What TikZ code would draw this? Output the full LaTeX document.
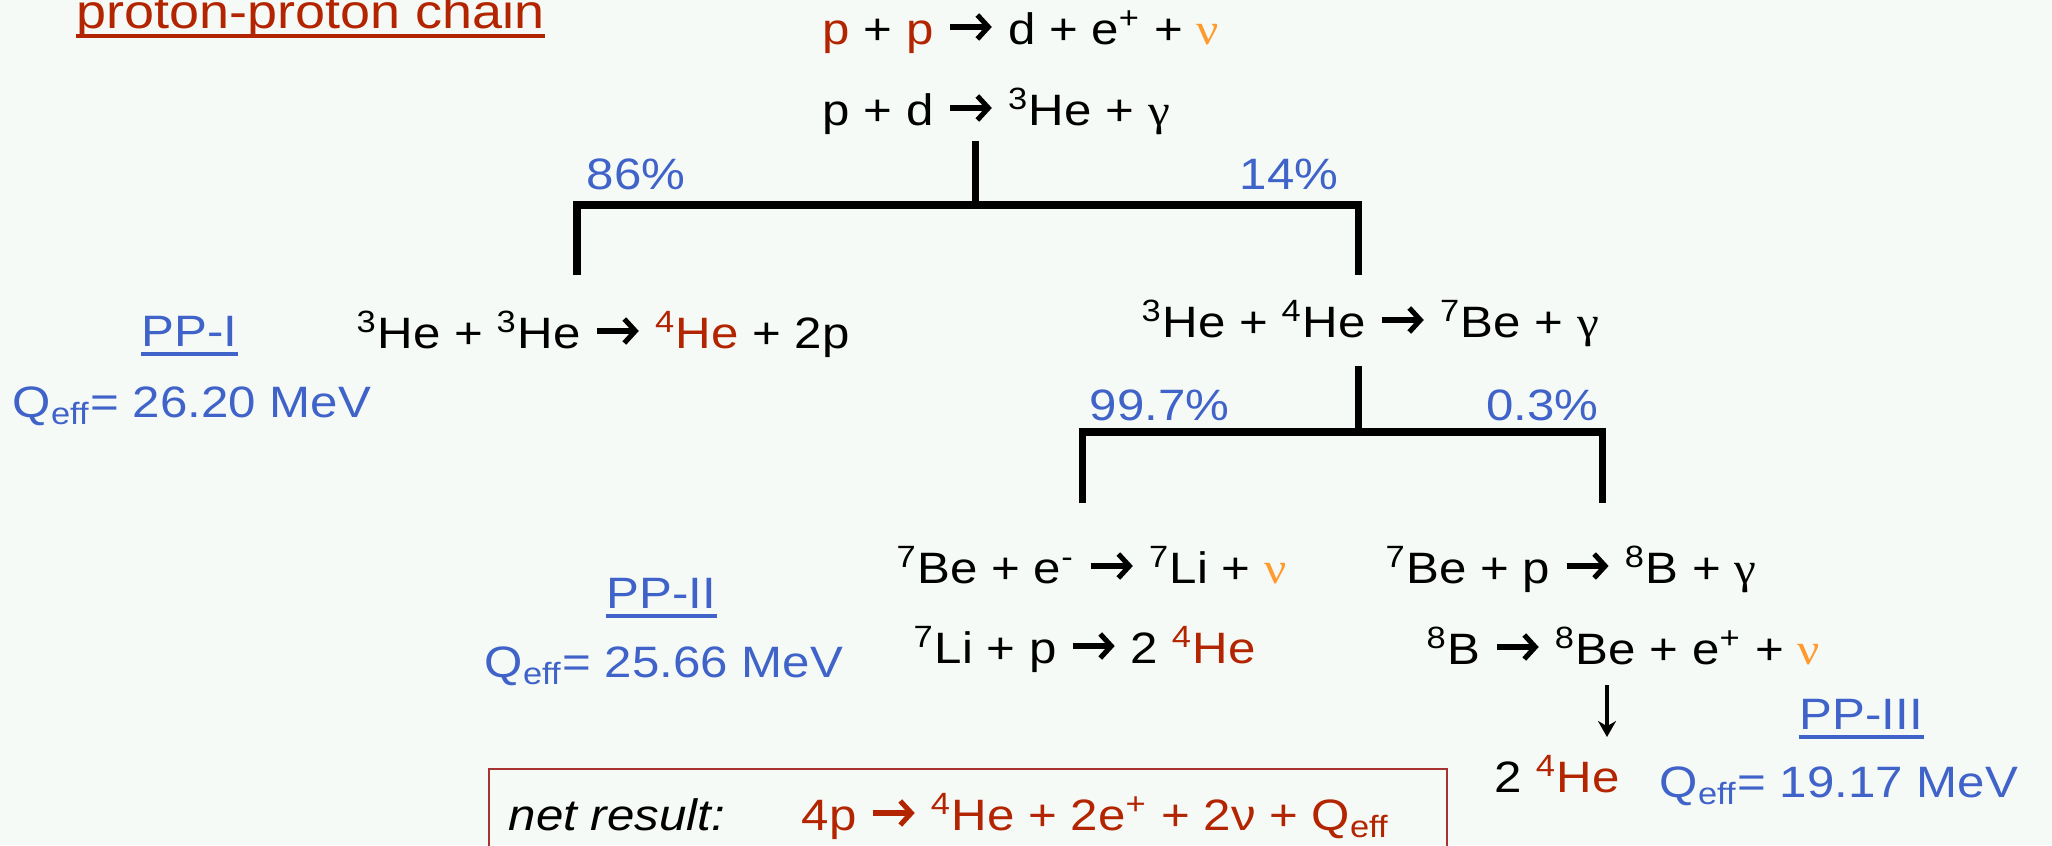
\documentclass[tikz,border=0pt]{standalone}
\usepackage{fontspec}
\setmainfont{Liberation Sans}[FakeStretch=1.12]
\newfontfamily\greekfont{Liberation Serif}[FakeStretch=1.12]
\usetikzlibrary{arrows.meta}
\definecolor{ChainRed}{HTML}{B32400}
\definecolor{NuOrange}{HTML}{FF9A2E}
\definecolor{PathBlue}{HTML}{3F63C8}
\definecolor{SlideBg}{HTML}{F6FAF7}
\definecolor{BoxRed}{HTML}{A83232}

\newcommand{\rarr}{\tikz[x=1cm,y=1cm,baseline=-0.17cm]\draw[line width=1.45pt,-{Straight Barb[length=0.11cm,width=0.24cm]}] (0,0) -- (0.42,0);}
\newcommand{\iso}[2]{\textsuperscript{#1}#2}
\newcommand{\neutrino}{\textcolor{NuOrange}{\greekfont ν}}
\newcommand{\photon}{{\greekfont γ}}
\newcommand{\Qeff}{Q\textsubscript{eff}}

\tikzset{
  eq/.style={anchor=base west,inner sep=0pt,font=\fontsize{12.5pt}{15pt}\selectfont},
  lbl/.style={eq,text=PathBlue},
  branch/.style={line width=2pt},
  decay/.style={line width=1.1pt,-{Stealth[length=0.16cm,width=0.18cm]}},
  uline/.style={line width=0.9pt}
}

\begin{document}
\begin{tikzpicture}[x=0.01cm,y=-0.01cm]
  \useasboundingbox (0,0) rectangle (2052,845);
  \clip (0,0) rectangle (2052,845);
  \fill[SlideBg] (0,0) rectangle (2052,845);

  % title
  \node[eq,font=\fontsize{13.7pt}{16pt}\selectfont,text=ChainRed] (title) at (76,28) {proton-proton chain};
  \draw[uline,ChainRed] ([yshift=-0.08cm]title.base west) -- ([yshift=-0.08cm]title.base east);

  % common start
  \node[eq] (pp) at (822,44) {\textcolor{ChainRed}{p} + \textcolor{ChainRed}{p} \rarr{} d + e\textsuperscript{+} + \neutrino};
  \node[eq] (pd) at (822,125) {p + d \rarr{} \iso{3}{He} + \photon};

  \coordinate (stem1) at (975,141);
  \coordinate (fork1) at (975,205);
  \coordinate (leg1a) at (577,275);
  \coordinate (leg1b) at (1358,275);
  \draw[branch] (stem1) -- (fork1);
  \draw[branch] (leg1a) |- (fork1) -| (leg1b);
  \node[lbl] (p86) at (586,189) {86\%};
  \node[lbl,anchor=base east] (p14) at (1339,189) {14\%};

  % PP-I
  \node[lbl] (ppone) at (141,346) {PP-I};
  \draw[uline,PathBlue] ([yshift=-0.08cm]ppone.base west) -- ([yshift=-0.08cm]ppone.base east);
  \node[lbl] (qone) at (12,417) {\Qeff= 26.20 MeV};
  \node[eq] (hethree) at (356,348) {\iso{3}{He} + \iso{3}{He} \rarr{} \textcolor{ChainRed}{\iso{4}{He}} + 2p};

  % second branching
  \node[eq] (hefour) at (1141,337) {\iso{3}{He} + \iso{4}{He} \rarr{} \iso{7}{Be} + \photon};
  \coordinate (stem2) at (1358,366);
  \coordinate (fork2) at (1358,432);
  \coordinate (leg2a) at (1082,503);
  \coordinate (leg2b) at (1602,503);
  \draw[branch] (stem2) -- (fork2);
  \draw[branch] (leg2a) |- (fork2) -| (leg2b);
  \node[lbl] (p997) at (1089,420) {99.7\%};
  \node[lbl,anchor=base east] (p03) at (1599,420) {0.3\%};

  % PP-II
  \node[eq] (becap) at (896,583) {\iso{7}{Be} + e\textsuperscript{-} \rarr{} \iso{7}{Li} + \neutrino};
  \node[eq] (lip) at (913,663) {\iso{7}{Li} + p \rarr{} 2 \textcolor{ChainRed}{\iso{4}{He}}};
  \node[lbl] (pptwo) at (606,608) {PP-II};
  \draw[uline,PathBlue] ([yshift=-0.08cm]pptwo.base west) -- ([yshift=-0.08cm]pptwo.base east);
  \node[lbl] (qtwo) at (484,677) {\Qeff= 25.66 MeV};

  % PP-III
  \node[eq] (bep) at (1385,583) {\iso{7}{Be} + p \rarr{} \iso{8}{B} + \photon};
  \node[eq] (bdecay) at (1426,664) {\iso{8}{B} \rarr{} \iso{8}{Be} + e\textsuperscript{+} + \neutrino};
  \coordinate (decaytop) at (1607,685);
  \coordinate (decaytip) at (1607,737);
  \draw[decay] (decaytop) -- (decaytip);
  \node[eq] (hetwo) at (1494,792) {2 \textcolor{ChainRed}{\iso{4}{He}}};
  \node[lbl] (ppthree) at (1799,729) {PP-III};
  \draw[uline,PathBlue] ([yshift=-0.08cm]ppthree.base west) -- ([yshift=-0.08cm]ppthree.base east);
  \node[lbl] (qthree) at (1659,797) {\Qeff= 19.17 MeV};

  % net result
  \draw[BoxRed,line width=0.7pt] (489,769) rectangle (1447,880);
  \node[eq,font=\fontsize{12.5pt}{15pt}\selectfont\itshape] (net) at (508,830) {net result:};
  \node[eq,text=ChainRed] (netreac) at (801,830) {4p \rarr{} \iso{4}{He} + 2e\textsuperscript{+} + 2ν + \Qeff};
\end{tikzpicture}
\end{document}
